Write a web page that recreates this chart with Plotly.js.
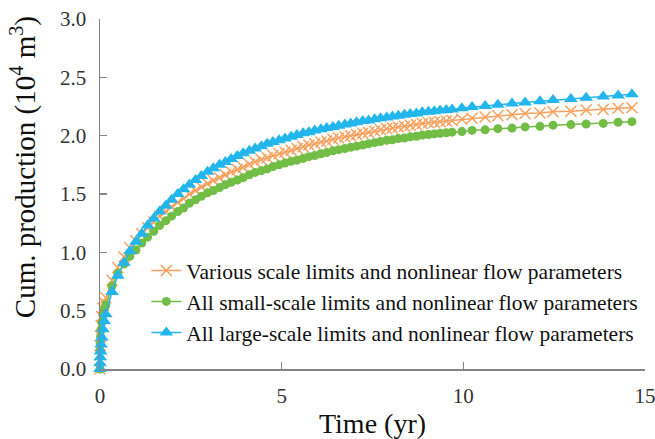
<!DOCTYPE html>
<html>
<head>
<meta charset="utf-8">
<script src="https://cdn.plot.ly/plotly-3.0.1.min.js"></script>
<style>html,body{margin:0;padding:0;background:#fff;}#chart{width:655px;height:439px;}</style>
</head>
<body>
<div id="chart"></div>
<script>
const timeYr = [0, 0.003, 0.008, 0.016, 0.03, 0.05, 0.08, 0.12,
  0.16, 0.33, 0.49, 0.66, 0.82, 0.99, 1.15, 1.31, 1.48, 1.64,
  1.81, 1.97, 2.14, 2.30, 2.46, 2.63, 2.79, 2.96, 3.12, 3.29,
  3.45, 3.61, 3.78, 3.94, 4.11, 4.27, 4.44, 4.60, 4.76, 4.93,
  5.09, 5.26, 5.42, 5.59, 5.75, 5.91, 6.08, 6.24, 6.41, 6.57,
  6.74, 6.90, 7.06, 7.23, 7.39, 7.56, 7.72, 7.89, 8.05, 8.21,
  8.38, 8.54, 8.71, 8.87, 9.04, 9.20, 9.36, 9.53, 9.69,
  9.96, 10.24, 10.60, 10.95, 11.34, 11.70, 12.11, 12.47, 12.96, 13.38, 13.85, 14.26, 14.64];

const variousScale = [0, 0.12, 0.20, 0.28, 0.37, 0.45, 0.52, 0.57,
  0.61, 0.76, 0.87, 0.96, 1.04, 1.10, 1.16, 1.21, 1.26, 1.31,
  1.35, 1.39, 1.43, 1.46, 1.50, 1.53, 1.56, 1.59, 1.615, 1.64,
  1.665, 1.69, 1.71, 1.73, 1.755, 1.775, 1.795, 1.81, 1.83, 1.845,
  1.86, 1.875, 1.89, 1.905, 1.92, 1.93, 1.945, 1.955, 1.97, 1.98,
  1.99, 2.00, 2.01, 2.02, 2.03, 2.04, 2.05, 2.06, 2.065, 2.075,
  2.08, 2.09, 2.095, 2.105, 2.11, 2.115, 2.12, 2.125, 2.13,
  2.14, 2.15, 2.16, 2.17, 2.18, 2.19, 2.195, 2.205, 2.21, 2.22, 2.225, 2.235, 2.24];

const smallScale = [0, 0.16, 0.22, 0.28, 0.34, 0.40, 0.46, 0.51,
  0.55, 0.71, 0.82, 0.90, 0.965, 1.02, 1.08, 1.13, 1.18, 1.23,
  1.27, 1.31, 1.35, 1.38, 1.42, 1.45, 1.48, 1.51, 1.53, 1.555,
  1.58, 1.60, 1.62, 1.64, 1.665, 1.685, 1.70, 1.715, 1.735, 1.75,
  1.765, 1.78, 1.79, 1.805, 1.82, 1.83, 1.845, 1.855, 1.87, 1.88,
  1.89, 1.90, 1.91, 1.92, 1.93, 1.94, 1.95, 1.96, 1.965, 1.975,
  1.98, 1.99, 1.995, 2.005, 2.01, 2.015, 2.02, 2.025, 2.03,
  2.035, 2.045, 2.05, 2.06, 2.065, 2.075, 2.08, 2.09, 2.095, 2.10, 2.105, 2.115, 2.12];

const largeScale = [0, 0.05, 0.10, 0.15, 0.21, 0.27, 0.34, 0.41,
  0.47, 0.66, 0.80, 0.91, 1.01, 1.09, 1.16, 1.23, 1.29, 1.35,
  1.40, 1.45, 1.50, 1.54, 1.58, 1.62, 1.655, 1.69, 1.72, 1.75,
  1.775, 1.80, 1.825, 1.85, 1.87, 1.89, 1.91, 1.93, 1.945, 1.96,
  1.975, 1.99, 2.005, 2.02, 2.03, 2.045, 2.055, 2.065, 2.075, 2.085,
  2.095, 2.105, 2.115, 2.125, 2.13, 2.14, 2.15, 2.155, 2.165, 2.17,
  2.18, 2.185, 2.19, 2.20, 2.205, 2.21, 2.215, 2.22, 2.225,
  2.235, 2.245, 2.255, 2.265, 2.275, 2.285, 2.295, 2.305, 2.315, 2.325, 2.335, 2.345, 2.355];

const seriesNames = [
  'Various scale limits and nonlinear flow parameters',
  'All small-scale limits and nonlinear flow parameters',
  'All large-scale limits and nonlinear flow parameters'
];
const xTicks = [0, 5, 10, 15];
const yTicks = [0, 0.5, 1.0, 1.5, 2.0, 2.5, 3.0];

const FONT = '"Liberation Serif", serif';
const cOrange = '#F9A05C', cGreen = '#72BD45', cBlue = '#22B6EC';

const traces = [
  {x: timeYr, y: variousScale, name: seriesNames[0], type: 'scatter', mode: 'lines+markers',
   legendgroup: 'a', cliponaxis: false,
   line: {color: cOrange, width: 1.5},
   marker: {symbol: 'x-thin', size: 11, color: cOrange, line: {color: cOrange, width: 1.5}}},
  {x: timeYr, y: smallScale, name: seriesNames[1], type: 'scatter', mode: 'lines+markers',
   legendgroup: 'b', cliponaxis: false,
   line: {color: cGreen, width: 1.5},
   marker: {symbol: 'circle', size: 9, color: cGreen}},
  {x: timeYr, y: largeScale, name: seriesNames[2], type: 'scatter', mode: 'lines+markers',
   legendgroup: 'c', cliponaxis: false,
   line: {color: cBlue, width: 1.5},
   marker: {symbol: 'triangle-up', size: 12, color: cBlue}}
];

const axisCommon = {
  showline: true, linecolor: '#858585', linewidth: 1.5,
  ticks: 'inside', ticklen: 7, tickwidth: 1.5, tickcolor: '#858585',
  showgrid: false, zeroline: false, ticklabeloverflow: 'allow',
  tickfont: {family: FONT, size: 21, color: '#333'}
};

const layout = {
  width: 655, height: 439,
  margin: {l: 100, r: 10, t: 19, b: 70},
  paper_bgcolor: '#fff', plot_bgcolor: '#fff',
  font: {family: FONT, color: '#111'},
  showlegend: true,
  legend: {x: 0.085, xanchor: 'left', y: 0.34, yanchor: 'top',
           bgcolor: 'rgba(0,0,0,0)', font: {family: FONT, size: 21.5, color: '#111'},
           tracegroupgap: 3, traceorder: 'normal'},
  xaxis: Object.assign({}, axisCommon, {
    range: [0, 15], tickvals: xTicks, ticktext: xTicks.map(String),
    ticklabelstandoff: 7,
    title: {text: 'Time (yr)', font: {family: FONT, size: 28, color: '#111'}, standoff: 6}
  }),
  yaxis: Object.assign({}, axisCommon, {
    range: [0, 3], tickvals: yTicks, ticktext: yTicks.map(v => v.toFixed(1)),
    ticklabelstandoff: 8
  }),
  annotations: [{
    text: 'Cum. production (10<sup>4</sup> m<sup>3</sup>)',
    xref: 'paper', yref: 'paper', x: -0.141, y: 0.577,
    xanchor: 'center', yanchor: 'middle', textangle: -90, showarrow: false,
    font: {family: FONT, size: 29, color: '#111'}
  }]
};

Plotly.newPlot('chart', traces, layout, {displayModeBar: false, staticPlot: true});
</script>
</body>
</html>
